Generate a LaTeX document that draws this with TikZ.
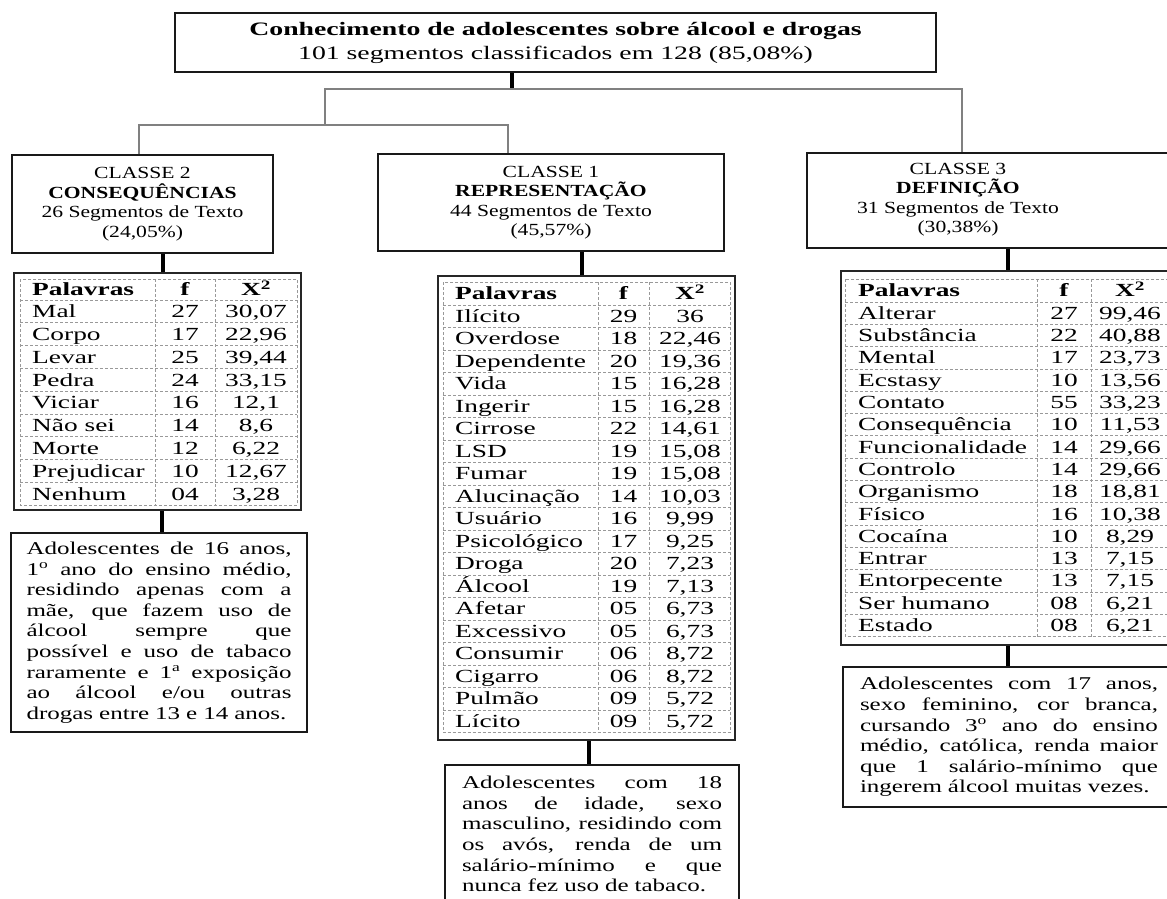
\documentclass[tikz,border=0pt]{standalone}
\usepackage{fontspec}
\setmainfont{Liberation Serif}
\newfontfamily\ftitle{Liberation Serif}[FakeStretch=1.46]
\newfontfamily\fclass{Liberation Serif}[FakeStretch=1.27]
\newfontfamily\ftab{Liberation Serif}[FakeStretch=1.48]
\newfontfamily\fbody{Liberation Serif}[FakeStretch=1.39]
\newcommand\jl[1]{\leavevmode\hbox to \jw{\spaceskip=0.3em plus 3em minus 0.05em\relax #1}\\}
\begin{document}
\begin{tikzpicture}[x=1pt,y=-1pt,
  box/.style={draw=black!90, line width=1.7pt, fill=white, inner sep=0pt},
  frame/.style={draw=black!85, line width=1.8pt, fill=white, inner sep=0pt},
  conn/.style={line width=3.2pt, black},
  dendro/.style={line width=1.5pt, black!50},
  grid/.style={black!40, line width=0.8pt, dash pattern=on 3pt off 2pt},
  tw/.style={inner sep=0pt, font=\ftab\fontsize{18.5}{22}\selectfont},
  ctxt/.style={align=center, font=\fclass\fontsize{17}{19.5}\selectfont},
  btxt/.style={box, align=left, font=\fbody\fontsize{18}{20.6}\selectfont}]
\useasboundingbox (0,0) rectangle (1167,899);
\clip (0,0) rectangle (1167,899);
\fill[white] (0,0) rectangle (1167,899);

% coordinates of the dendrogram
\coordinate (j0) at (512,89);
\coordinate (ja) at (325,89);
\coordinate (jb) at (962,89);
\coordinate (jc) at (325,125);
\coordinate (jd) at (139,125);
\coordinate (je) at (508,125);
\coordinate (k2) at (163,0);
\coordinate (k2b) at (162,0);
\coordinate (k1) at (582,0);
\coordinate (k1b) at (589,0);
\coordinate (k3) at (1008,0);

% top box
\node[box, minimum width=761pt, minimum height=59pt, align=center,
  font=\ftitle\fontsize{19}{24}\selectfont] (top) at (555.5,42.5)
  {\textbf{Conhecimento de adolescentes sobre álcool e drogas}\\101 segmentos classificados em 128 (85,08\%)};

% class boxes
\node[box, minimum width=261pt, minimum height=98pt, ctxt] (c2) at (142.5,204)
  {CLASSE 2\\\textbf{CONSEQUÊNCIAS}\\26 Segmentos de Texto\\(24,05\%)};
\node[box, minimum width=346pt, minimum height=97pt, ctxt] (c1) at (551,202.5)
  {CLASSE 1\\\textbf{REPRESENTAÇÃO}\\44 Segmentos de Texto\\(45,57\%)};
\node[box, minimum width=368pt, minimum height=95pt] (c3) at (991,200.5) {};
\node[ctxt, inner sep=0pt] (c3t) at (958,199.5)
  {CLASSE 3\\\textbf{DEFINIÇÃO}\\31 Segmentos de Texto\\(30,38\%)};

% dendrogram
\draw[conn] (top.south -| j0) -- (j0);
\draw[dendro] (jc) -- (ja) -- (jb) -- (jb |- c3.north);
\draw[dendro] (jd |- c2.north) -- (jd) -- (je) -- (je |- c1.north);

% ---------- table class 2 ----------
\node[frame, minimum width=287pt, minimum height=237pt] (t2) at (157.5,391.5) {};
\draw[grid] (20,279) rectangle (297,505.2) (155,279) -- (155,505.2) (215,279) -- (215,505.2);
\foreach \k in {0,...,8} \draw[grid] (20,{300+\k*22.8}) -- (297,{300+\k*22.8});
\node[tw, anchor=base west] (t2h1) at (32,295.7) {\textbf{Palavras}};
\node[tw, anchor=base] (t2h2) at (185,295.7) {\textbf{f}};
\node[tw, anchor=base] (t2h3) at (256,295.7) {\textbf{X\textsuperscript{2}}};
\foreach \w/\f/\v [count=\i] in {Mal/27/{30,07},Corpo/17/{22,96},Levar/25/{39,44},Pedra/24/{33,15},Viciar/16/{12,1},Não sei/14/{8,6},Morte/12/{6,22},Prejudicar/10/{12,67},Nenhum/04/{3,28}}{
  \node[tw, anchor=base west] (t2w\i) at (32,{300+(\i-0.5)*22.8+6.2}) {\w};
  \node[tw, anchor=base] (t2f\i) at (185,{300+(\i-0.5)*22.8+6.2}) {\f};
  \node[tw, anchor=base] (t2v\i) at (256,{300+(\i-0.5)*22.8+6.2}) {\v};
}

% ---------- table class 1 ----------
\node[frame, minimum width=297pt, minimum height=464pt] (t1) at (586.5,508) {};
\draw[grid] (443,282) rectangle (730,732.5) (598,282) -- (598,732.5) (649,282) -- (649,732.5);
\foreach \k in {0,...,18} \draw[grid] (443,{305+\k*22.5}) -- (730,{305+\k*22.5});
\node[tw, anchor=base west] (t1h1) at (455,299.7) {\textbf{Palavras}};
\node[tw, anchor=base] (t1h2) at (623.5,299.7) {\textbf{f}};
\node[tw, anchor=base] (t1h3) at (690,299.7) {\textbf{X\textsuperscript{2}}};
\foreach \w/\f/\v [count=\i] in {Ilícito/29/36,Overdose/18/{22,46},Dependente/20/{19,36},Vida/15/{16,28},Ingerir/15/{16,28},Cirrose/22/{14,61},LSD/19/{15,08},Fumar/19/{15,08},Alucinação/14/{10,03},Usuário/16/{9,99},Psicológico/17/{9,25},Droga/20/{7,23},Álcool/19/{7,13},Afetar/05/{6,73},Excessivo/05/{6,73},Consumir/06/{8,72},Cigarro/06/{8,72},Pulmão/09/{5,72},Lícito/09/{5,72}}{
  \node[tw, anchor=base west] (t1w\i) at (455,{305+(\i-0.5)*22.5+6.2}) {\w};
  \node[tw, anchor=base] (t1f\i) at (623.5,{305+(\i-0.5)*22.5+6.2}) {\f};
  \node[tw, anchor=base] (t1v\i) at (690,{305+(\i-0.5)*22.5+6.2}) {\v};
}

% ---------- table class 3 ----------
\node[frame, minimum width=334pt, minimum height=374pt] (t3) at (1008,458) {};
\draw[grid] (845,279) rectangle (1172,636.5) (1037,279) -- (1037,636.5) (1091,279) -- (1091,636.5);
\foreach \k in {0,...,14} \draw[grid] (845,{302+\k*22.3}) -- (1172,{302+\k*22.3});
\node[tw, anchor=base west] (t3h1) at (858,296.7) {\textbf{Palavras}};
\node[tw, anchor=base] (t3h2) at (1064,296.7) {\textbf{f}};
\node[tw, anchor=base] (t3h3) at (1130,296.7) {\textbf{X\textsuperscript{2}}};
\foreach \w/\f/\v [count=\i] in {Alterar/27/{99,46},Substância/22/{40,88},Mental/17/{23,73},Ecstasy/10/{13,56},Contato/55/{33,23},Consequência/10/{11,53},Funcionalidade/14/{29,66},Controlo/14/{29,66},Organismo/18/{18,81},Físico/16/{10,38},Cocaína/10/{8,29},Entrar/13/{7,15},Entorpecente/13/{7,15},Ser humano/08/{6,21},Estado/08/{6,21}}{
  \node[tw, anchor=base west] (t3w\i) at (858,{302+(\i-0.5)*22.3+6.2}) {\w};
  \node[tw, anchor=base] (t3f\i) at (1064,{302+(\i-0.5)*22.3+6.2}) {\f};
  \node[tw, anchor=base] (t3v\i) at (1130,{302+(\i-0.5)*22.3+6.2}) {\v};
}

% ---------- profile boxes ----------
\node[btxt, text width=265pt, inner xsep=15.5pt, minimum height=199pt] (b2) at (159,632.5)
  {\def\jw{265pt}\jl{Adolescentes de 16 anos,}\jl{1\textsuperscript{o} ano do ensino médio,}\jl{residindo apenas com a}\jl{mãe, que fazem uso de}\jl{álcool sempre que}\jl{possível e uso de tabaco}\jl{raramente e 1\textsuperscript{a} exposição}\jl{ao álcool e/ou outras}drogas entre 13 e 14 anos.};
\node[btxt, text width=260pt, inner xsep=17pt, minimum height=138pt] (b1) at (592,834)
  {\def\jw{260pt}\jl{Adolescentes com 18}\jl{anos de idade, sexo}\jl{masculino, residindo com}\jl{os avós, renda de um}\jl{salário-mínimo e que}nunca fez uso de tabaco.};
\node[btxt, text width=298pt, inner xsep=17pt, minimum height=140pt] (b3) at (1009,737)
  {\def\jw{298pt}\jl{Adolescentes com 17 anos,}\jl{sexo feminino, cor branca,}\jl{cursando 3\textsuperscript{o} ano do ensino}\jl{médio, católica, renda maior}\jl{que 1 salário-mínimo que}ingerem álcool muitas vezes.};

% connectors class -> table -> profile
\draw[conn] (k2 |- c2.south) -- (k2 |- t2.north);
\draw[conn] (k2b |- t2.south) -- (k2b |- b2.north);
\draw[conn] (k1 |- c1.south) -- (k1 |- t1.north);
\draw[conn] (k1b |- t1.south) -- (k1b |- b1.north);
\draw[conn] (k3 |- c3.south) -- (k3 |- t3.north);
\draw[conn] (k3 |- t3.south) -- (k3 |- b3.north);
\end{tikzpicture}
\end{document}
